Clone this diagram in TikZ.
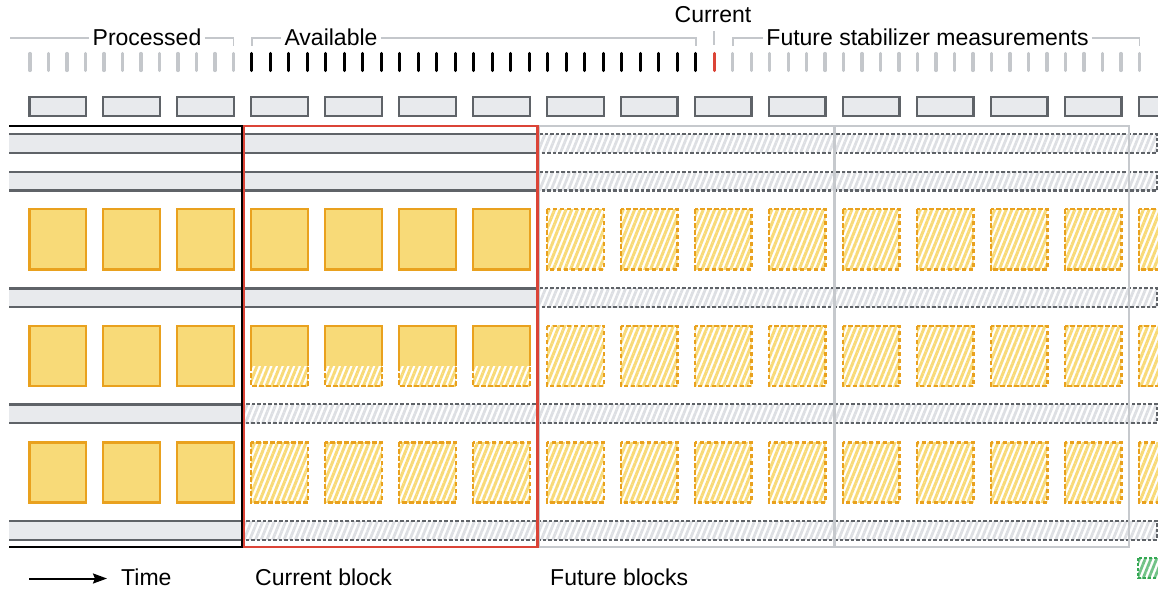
\documentclass[tikz,border=0pt]{standalone}
\usepackage{fontspec}
\setmainfont{Liberation Sans}
\usetikzlibrary{arrows.meta,patterns.meta}
\definecolor{boxgray}{HTML}{E8EAED}
\definecolor{dgray}{HTML}{5F6368}
\definecolor{tickgray}{HTML}{C4C7CB}
\definecolor{yfill}{HTML}{F8DA78}
\definecolor{yline}{HTML}{E9A11E}
\definecolor{rred}{HTML}{DB4437}
\definecolor{framegray}{HTML}{C6C9CD}
\definecolor{hgray}{HTML}{DDDFE3}
\definecolor{ggreen}{HTML}{34A853}
\tikzset{
  lbl/.style={font=\fontsize{23}{27}\selectfont, inner ysep=0pt, inner xsep=3pt, anchor=base},
  tickmark/.style={line width=3.2pt, line cap=round},
  bracket/.style={draw=tickgray, line width=1.8pt},
  gbox/.style={draw=dgray, fill=boxgray, line width=2.4pt},
  solidsq/.style={draw=yline, fill=yfill, line width=2.4pt},
  yhatch/.style={pattern={Lines[angle=68,distance=5.3pt,line width=3pt]}, pattern color=yfill},
  ydash/.style={draw=yline, line width=2.4pt, dash pattern=on 4.5pt off 2.5pt},
  ghatch/.style={pattern={Lines[angle=68,distance=5.3pt,line width=2.8pt]}, pattern color=hgray},
  gdash/.style={draw=dgray, line width=2.2pt, dash pattern=on 3.5pt off 2pt},
  solidband/.style={fill=boxgray},
  bandline/.style={draw=dgray, line width=2.4pt},
  blackframe/.style={draw=black, line width=2pt},
  redframe/.style={draw=rred, line width=2.4pt},
  grayframe/.style={draw=framegray, line width=1.8pt},
}
\begin{document}
\begin{tikzpicture}[x=1pt,y=-1pt]
\useasboundingbox (0,0) rectangle (1158,592);
\clip (0,0) rectangle (1158,592);

% ---------------- tick marks ----------------
\foreach \k in {0,...,60}{
  \pgfmathsetmacro\tx{30+18.49*\k}
  \ifnum\k<12 \def\tc{tickgray}\else\ifnum\k<37 \def\tc{black}\else\ifnum\k=37 \def\tc{rred}\else\def\tc{tickgray}\fi\fi\fi
  \draw[tickmark, draw=\tc] (\tx,53.5) -- (\tx,70.5);
}

% ---------------- bracket labels ----------------
\coordinate (bl) at (0,38);
\node[lbl] (proc) at (147,45) {Processed};
\draw[bracket] (10,38) -- (proc.west |- bl);
\draw[bracket] (proc.east |- bl) -- (233.4,38) -- (233.4,46);

\node[lbl] (avail) at (331,45) {Available};
\draw[bracket] (251.9,46) -- (251.9,38) -- (avail.west |- bl);
\draw[bracket] (avail.east |- bl) -- (695.6,38) -- (695.6,46);

\node[lbl] (cur) at (713,22) {Current};
\draw[bracket] (714.1,31) -- (714.1,45);

\node[lbl] (fut) at (927.5,45) {Future stabilizer measurements};
\draw[bracket] (732.6,46) -- (732.6,38) -- (fut.west |- bl);
\draw[bracket] (fut.east |- bl) -- (1139.4,38) -- (1139.4,46);

% ---------------- gray boxes row ----------------
\foreach \n in {0,...,15}{
  \pgfmathsetmacro\xl{29.3+73.96*\n}
  \draw[gbox] (\xl,97) rectangle (\xl+56.7,116);
}

% ---------------- bands ----------------
% solid bands
\foreach \bt/\xe in {134/538.4, 171.7/538.4, 288.3/538.4, 404.3/242.6, 521/242.6}{
  \fill[solidband] (9,\bt) rectangle (\xe,\bt+18.7);
  \draw[bandline] (9,\bt) -- (\xe,\bt);
  \draw[bandline] (9,\bt+18.7) -- (\xe,\bt+18.7);
}
% hatched bands
\foreach \bt/\xs in {134/538.4, 171.7/538.4, 288.3/538.4, 404.3/242.6, 521/242.6}{
  \path[ghatch] (\xs,\bt) rectangle (1157,\bt+18.7);
  \draw[gdash] (\xs,\bt) rectangle (1157,\bt+18.7);
}

% ---------------- yellow squares ----------------
% row 1
\foreach \n in {0,...,15}{
  \pgfmathsetmacro\xl{29.3+73.96*\n}
  \ifnum\n<7
    \draw[solidsq] (\xl,209) rectangle (\xl+56.7,269.3);
  \else
    \path[yhatch] (\xl,209) rectangle (\xl+56.7,269.3);
    \draw[ydash] (\xl,209) rectangle (\xl+56.7,269.3);
  \fi
}
% row 2
\foreach \n in {0,...,15}{
  \pgfmathsetmacro\xl{29.3+73.96*\n}
  \ifnum\n<3
    \draw[solidsq] (\xl,325.7) rectangle (\xl+56.7,386);
  \else\ifnum\n<7
    \fill[yfill] (\xl,325.7) rectangle (\xl+56.7,366);
    \path[yhatch] (\xl,366) rectangle (\xl+56.7,386);
    \draw[ydash] (\xl,366) -- (\xl,386) -- (\xl+56.7,386) -- (\xl+56.7,366);
    \draw[draw=yline, line width=2.4pt] (\xl,366) -- (\xl,325.7) -- (\xl+56.7,325.7) -- (\xl+56.7,366);
  \else
    \path[yhatch] (\xl,325.7) rectangle (\xl+56.7,386);
    \draw[ydash] (\xl,325.7) rectangle (\xl+56.7,386);
  \fi\fi
}
% row 3
\foreach \n in {0,...,15}{
  \pgfmathsetmacro\xl{29.3+73.96*\n}
  \ifnum\n<3
    \draw[solidsq] (\xl,442.3) rectangle (\xl+56.7,502.3);
  \else
    \path[yhatch] (\xl,442.3) rectangle (\xl+56.7,502.3);
    \draw[ydash] (\xl,442.3) rectangle (\xl+56.7,502.3);
  \fi
}

% ---------------- block frames ----------------
\draw[grayframe] (539.4,126) rectangle (833.4,547);
\draw[grayframe] (835.2,126) rectangle (1129.2,547);
\draw[redframe] (244,126) rectangle (537.3,547);
\draw[blackframe] (9,126) -- (241.7,126);
\draw[blackframe] (9,547) -- (241.7,547);
\draw[blackframe] (241.7,125) -- (241.7,548);

% ---------------- bottom labels ----------------
\node[lbl, anchor=base west, inner xsep=14pt] (time) at (107,585) {Time};
\coordinate (tstart) at (29,578.5);
\draw[line width=2pt, -{Stealth[length=14pt,width=10pt,inset=2pt]}] (tstart) -- (time.west |- tstart);
\node[lbl, anchor=base west, inner xsep=0pt] (curblk) at (255,585) {Current block};
\node[lbl, anchor=base west, inner xsep=0pt] (futblk) at (550,585) {Future blocks};

% green legend swatch (cut by the edge)
\path[pattern={Lines[angle=68,distance=5.3pt,line width=2.8pt]}, pattern color=ggreen!70] (1138,558) rectangle (1180,578);
\draw[draw=ggreen, line width=2pt, dash pattern=on 3pt off 2pt] (1138,558) rectangle (1180,578);
\end{tikzpicture}
\end{document}
